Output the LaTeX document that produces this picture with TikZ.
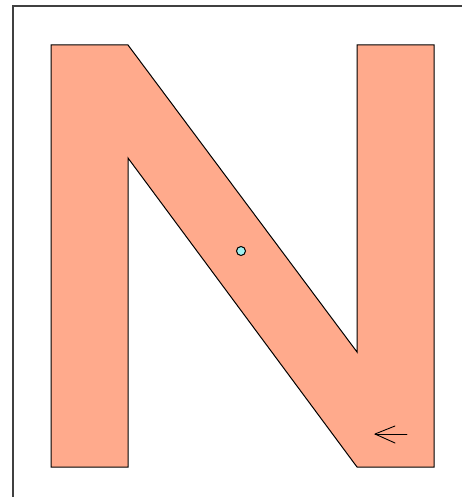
\documentclass[tikz,border=0pt]{standalone}
\definecolor{salmon}{RGB}{255,170,140}
\definecolor{dotcyan}{RGB}{160,240,240}
\tikzset{
  letter/.style={fill=salmon,draw=black,line width=1pt,line join=miter},
  frame/.style={draw=black!75,line width=1.3pt},
  marker/.style={circle,fill=dotcyan,draw=black,line width=1pt,inner sep=0pt,minimum size=9pt},
  dirarrow/.style={line width=0.9pt,line cap=round,line join=round}
}
\begin{document}
\begin{tikzpicture}[x=1pt,y=-1pt]
\useasboundingbox (0,0) rectangle (462,497);
\fill[white] (0,0) rectangle (462,497);
\draw[frame] (13,497) -- (13,6) -- (462,6);
\draw[letter] (51,45) -- (128,45) -- (357,352) -- (357,45) -- (434,45) -- (434,467)
  -- (357,467) -- (128,158) -- (128,467) -- (51,467) -- cycle;
\node[marker] (dot) at (241,251) {};
\coordinate (atail) at (407,434);
\coordinate (ahead) at (375,434);
\coordinate (abarbup) at (395,426);
\coordinate (abarbdown) at (395,443);
\draw[dirarrow] (atail) -- (ahead);
\draw[dirarrow] (abarbup) -- (ahead) -- (abarbdown);
\end{tikzpicture}
\end{document}
